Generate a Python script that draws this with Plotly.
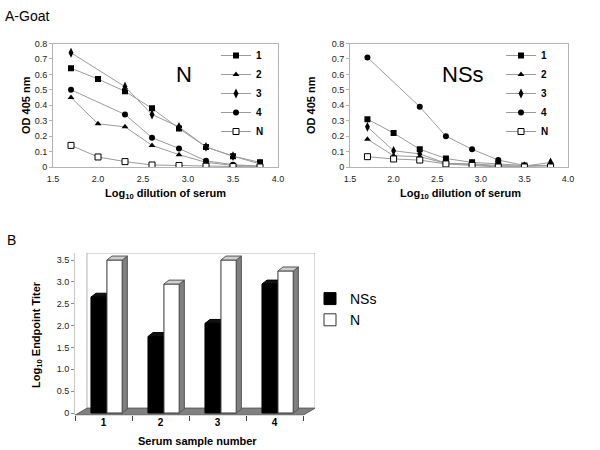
import plotly.graph_objects as go

# ---------------- data ----------------
dilution = [1.7, 2.0, 2.3, 2.6, 2.9, 3.2, 3.5, 3.8]
series_names = ["1", "2", "3", "4", "N"]

# Panel A, N antigen
n_s1 = [0.64, 0.57, 0.49, 0.38, 0.25, 0.13, 0.07, 0.03]
n_s2 = [0.45, 0.28, 0.26, 0.14, 0.08, 0.03, 0.01, 0.005]
n_s3 = [0.74, None, 0.52, 0.34, 0.26, 0.13, 0.07, 0.02]
n_s4 = [0.50, None, 0.34, 0.19, 0.12, 0.04, 0.015, 0.005]
n_sN = [0.14, 0.065, 0.035, 0.013, 0.01, 0.005, 0.003, 0.0]

# Panel A, NSs antigen
nss_s1 = [0.31, 0.22, 0.115, 0.055, 0.03, 0.02, 0.01, 0.01]
nss_s2 = [0.18, 0.073, 0.067, 0.024, 0.015, 0.005, 0.005, 0.01]
nss_s3 = [0.26, 0.105, 0.085, 0.024, 0.02, 0.01, 0.005, 0.03]
nss_s4 = [0.71, None, 0.39, 0.20, 0.115, 0.045, 0.01, 0.01]
nss_sN = [0.067, 0.052, 0.045, 0.02, 0.01, 0.0, 0.0, 0.0]

x_ticks = [1.5, 2.0, 2.5, 3.0, 3.5, 4.0]
x_ticktext = ["1.5", "2.0", "2.5", "3.0", "3.5", "4.0"]
y_ticks = [0, 0.1, 0.2, 0.3, 0.4, 0.5, 0.6, 0.7, 0.8]
y_ticktext = ["0", "0.1", "0.2", "0.3", "0.4", "0.5", "0.6", "0.7", "0.8"]

# Panel B
samples = [1, 2, 3, 4]
sample_labels = ["1", "2", "3", "4"]
titer_nss = [2.65, 1.75, 2.05, 2.95]
titer_n = [3.5, 2.95, 3.5, 3.25]
titer_ticks = [0, 0.5, 1.0, 1.5, 2.0, 2.5, 3.0, 3.5]
titer_ticktext = ["0", "0.5", "1.0", "1.5", "2.0", "2.5", "3.0", "3.5"]

# ---------------- styles ----------------
W, H = 600, 450
FONT = "Liberation Sans, Arial, sans-serif"
symbols = ["square", "triangle-up", "diamond-tall", "circle", "square"]
fills = ["black", "black", "black", "black", "white"]
sizes = [6, 6, 7, 6, 6]
line_col = "#9a9a9a"
frame_col = "#b4b4b4"

fig = go.Figure()

def add_panel(values, xa, ya, legend):
    for name, vals, sym, fc, sz in zip(series_names, values, symbols, fills, sizes):
        fig.add_trace(go.Scatter(
            x=dilution, y=vals, name=name, mode="lines+markers",
            connectgaps=True, xaxis=xa, yaxis=ya, legend=legend,
            line=dict(color=line_col, width=1),
            marker=dict(symbol=sym, size=sz, color=fc,
                        line=dict(color="black", width=1 if fc == "white" else 0)),
        ))

add_panel([n_s1, n_s2, n_s3, n_s4, n_sN], "x", "y", "legend")
add_panel([nss_s1, nss_s2, nss_s3, nss_s4, nss_sN], "x2", "y2", "legend2")

# bars
BW = 0.27
OFF_NSS = -0.22
OFF_N = 0.06
fig.add_trace(go.Bar(x=samples, y=titer_nss, name="NSs", width=BW, offset=OFF_NSS,
                     xaxis="x3", yaxis="y3", legend="legend3",
                     marker=dict(color="black", line=dict(color="black", width=1))))
fig.add_trace(go.Bar(x=samples, y=titer_n, name="N", width=BW, offset=OFF_N,
                     xaxis="x3", yaxis="y3", legend="legend3",
                     marker=dict(color="white", line=dict(color="#333333", width=1))))

# pseudo-3D decorations (depth in data units)
DX, DY = 0.21, 0.16      # wall depth
BDX, BDY = 0.088, 0.09   # bar depth
Y0 = -0.05
YTOP = 3.66
shapes = []
shapes.append(dict(type="rect", xref="x3", yref="y3", x0=0.5 + DX, x1=4.5 + DX,
                   y0=Y0 + DY, y1=YTOP, line=dict(color=frame_col, width=1),
                   fillcolor="white", layer="below"))
shapes.append(dict(type="path", xref="x3", yref="y3",
                   path=f"M0.5,{Y0} L4.5,{Y0} L{4.5+DX},{Y0+DY} L{0.5+DX},{Y0+DY} Z",
                   fillcolor="#808080", line=dict(color="#5a5a5a", width=1), layer="below"))

def bar_faces(xc, v, off, side_col, top_col, edge_col, layer):
    x0 = xc + off
    x1 = x0 + BW
    return [
        dict(type="path", xref="x3", yref="y3", layer=layer,
             path=f"M{x1},0 L{x1+BDX},{BDY} L{x1+BDX},{v+BDY} L{x1},{v} Z",
             fillcolor=side_col, line=dict(color=edge_col, width=1)),
        dict(type="path", xref="x3", yref="y3", layer=layer,
             path=f"M{x0},{v} L{x0+BDX},{v+BDY} L{x1+BDX},{v+BDY} L{x1},{v} Z",
             fillcolor=top_col, line=dict(color=edge_col, width=1)),
    ]

for xc, v in zip(samples, titer_nss):
    shapes += bar_faces(xc, v, OFF_NSS, "#111111", "#111111", "black", "below")
for xc, v in zip(samples, titer_n):
    shapes += bar_faces(xc, v, OFF_N, "#808080", "#cfcfcf", "#555555", "above")

# ---------------- axes ----------------
def px_x(a, b):
    return [a / W, b / W]

def px_y(top, bottom):
    return [1 - bottom / H, 1 - top / H]

tickfont = dict(family=FONT, size=9, color="#222222")
titlefont = dict(family=FONT, size=11, color="black", weight="bold")

def line_x(domain, anchor):
    return dict(domain=domain, anchor=anchor, range=[1.5, 4.0], tickvals=x_ticks,
                ticktext=x_ticktext, showline=True, linecolor=frame_col, mirror=True,
                ticks="", ticklabelstandoff=3, showgrid=False,
                zeroline=False, tickfont=tickfont, automargin=False)

def line_y(domain, anchor):
    return dict(domain=domain, anchor=anchor, range=[0, 0.8], tickvals=y_ticks,
                ticktext=y_ticktext, showline=True, linecolor=frame_col, mirror=True,
                ticks="outside", ticklen=3, tickcolor=frame_col, showgrid=False,
                zeroline=False, tickfont=tickfont, automargin=False)

def label(text, x, y, size=11, bold=True, angle=0, xanchor="center", yanchor="middle"):
    return dict(text=text, x=x / W, y=1 - y / H, xref="paper", yref="paper",
                xanchor=xanchor, yanchor=yanchor, showarrow=False, textangle=angle,
                font=dict(family=FONT, size=size, color="black",
                          weight="bold" if bold else "normal"))

fig.update_layout(
    width=W, height=H, margin=dict(l=0, r=0, t=0, b=0, pad=0, autoexpand=False),
    paper_bgcolor="white", plot_bgcolor="rgba(0,0,0,0)",
    font=dict(family=FONT, color="black"),
    barmode="overlay", showlegend=True,
    xaxis=line_x(px_x(53, 278), "y"),
    yaxis=line_y(px_y(43.5, 167), "x"),
    xaxis2=line_x(px_x(350, 568), "y2"),
    yaxis2=line_y(px_y(43.5, 167), "x2"),
    xaxis3=dict(domain=px_x(75, 315), anchor="y3", range=[0.5, 4.5 + DX],
                tickvals=samples, ticktext=sample_labels, ticks="", showline=False,
                showgrid=False, zeroline=False, automargin=False,
                tickfont=dict(family=FONT, size=10, color="black", weight="bold"),
                minor=dict(tickvals=[0.5, 1.5, 2.5, 3.5, 4.5], ticks="outside",
                           ticklen=5, tickcolor="#444444", showgrid=False)),
    yaxis3=dict(domain=px_y(253, 415.2), anchor="x3", range=[Y0, YTOP],
                tickvals=titer_ticks, ticktext=titer_ticktext, ticks="outside",
                ticklen=3, tickcolor="#888888", showline=True, linecolor="#c8c8c8",
                showgrid=False, zeroline=False, tickfont=tickfont, automargin=False),
    legend=dict(x=216 / W, y=1 - 41 / H, xanchor="left", yanchor="top",
                bgcolor="rgba(0,0,0,0)", itemwidth=30,
                font=dict(family=FONT, size=10, weight="bold")),
    legend2=dict(x=501 / W, y=1 - 41 / H, xanchor="left", yanchor="top",
                 bgcolor="rgba(0,0,0,0)", itemwidth=30,
                 font=dict(family=FONT, size=10, weight="bold")),
    legend3=dict(x=310 / W, y=1 - 283 / H, xanchor="left", yanchor="top",
                 bgcolor="rgba(0,0,0,0)", itemwidth=30,
                 font=dict(family=FONT, size=14)),
    shapes=shapes,
    annotations=[
        label("A-Goat", 3, 6, size=14, bold=False, xanchor="left", yanchor="top"),
        label("B", 5, 230, size=14, bold=False, xanchor="left", yanchor="top"),
        label("N", 184, 75, size=22, bold=False),
        label("NSs", 463, 75, size=22, bold=False),
        label("OD 405 nm", 26, 105, angle=-90),
        label("OD 405 nm", 311, 105, angle=-90),
        label("Log<sub>10</sub> dilution of serum", 165, 194),
        label("Log<sub>10</sub> dilution of serum", 460, 194),
        label("Log<sub>10</sub> Endpoint Titer", 37, 335, angle=-90),
        label("Serum sample number", 197, 441),
    ],
)

fig.write_html("out.html", config={"displayModeBar": False},
               post_script="document.body.style.margin='0';")
